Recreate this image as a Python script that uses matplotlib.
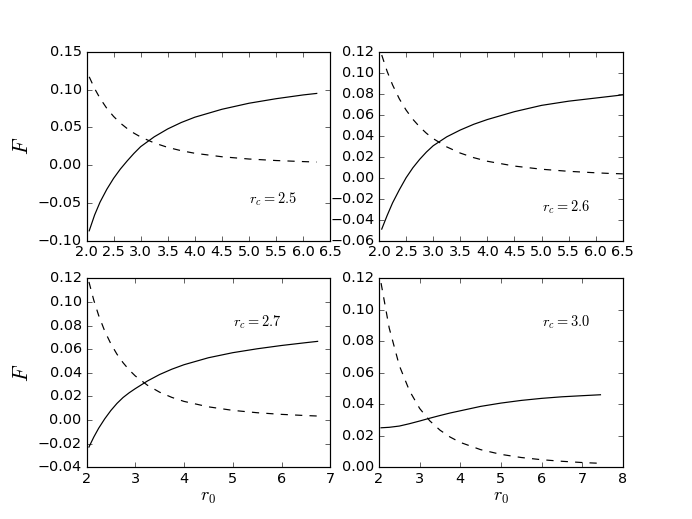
import matplotlib
matplotlib.use("Agg")
import matplotlib.pyplot as plt

plt.style.use("classic")
plt.rcParams["figure.facecolor"] = "white"
plt.rcParams["savefig.facecolor"] = "white"
plt.rcParams["mathtext.fontset"] = "cm"

# ---- data ----
x_rc25 = [2.05, 2.15, 2.25, 2.375, 2.5, 2.625, 2.75, 2.875, 3.0, 3.25, 3.5, 3.75, 4.0, 4.5, 5.0, 5.5, 6.0, 6.25]
solid_rc25 = [-0.087, -0.066, -0.049, -0.032, -0.0175, -0.0052, 0.0055, 0.0155, 0.0245, 0.0375, 0.048, 0.0565, 0.0635, 0.074, 0.082, 0.088, 0.093, 0.095]
dashed_rc25 = [0.117, 0.1014, 0.0885, 0.0752, 0.0645, 0.0557, 0.0485, 0.0424, 0.0373, 0.0294, 0.0235, 0.0191, 0.0157, 0.0111, 0.0081, 0.0061, 0.0047, 0.0041]

x_rc26 = [2.05, 2.15, 2.25, 2.375, 2.5, 2.625, 2.75, 2.875, 3.0, 3.25, 3.5, 3.75, 4.0, 4.5, 5.0, 5.5, 6.0, 6.25, 6.5]
solid_rc26 = [-0.049, -0.036, -0.024, -0.0115, 0.000, 0.0095, 0.0175, 0.0245, 0.0305, 0.039, 0.0455, 0.051, 0.0555, 0.063, 0.069, 0.073, 0.076, 0.0775, 0.079]
dashed_rc26 = [0.117, 0.1014, 0.0885, 0.0752, 0.0645, 0.0557, 0.0485, 0.0424, 0.0373, 0.0294, 0.0235, 0.0191, 0.0157, 0.0111, 0.0081, 0.0061, 0.0047, 0.0041, 0.0037]

x_rc27 = [2.05, 2.15, 2.25, 2.375, 2.5, 2.625, 2.75, 2.875, 3.0, 3.25, 3.5, 3.75, 4.0, 4.5, 5.0, 5.5, 6.0, 6.5, 6.74]
solid_rc27 = [-0.023, -0.0145, -0.007, 0.001, 0.008, 0.014, 0.019, 0.023, 0.0265, 0.033, 0.0385, 0.043, 0.0468, 0.0527, 0.057, 0.0603, 0.0631, 0.0655, 0.0666]
dashed_rc27 = [0.117, 0.1014, 0.0885, 0.0752, 0.0645, 0.0557, 0.0485, 0.0424, 0.0373, 0.0294, 0.0235, 0.0191, 0.0157, 0.0111, 0.0081, 0.0061, 0.0047, 0.0037, 0.0033]

x_rc30 = [2.05, 2.25, 2.5, 2.75, 3.0, 3.25, 3.5, 3.75, 4.0, 4.5, 5.0, 5.5, 6.0, 6.5, 7.0, 7.45]
solid_rc30 = [0.0250, 0.0253, 0.0261, 0.0276, 0.0293, 0.0311, 0.0328, 0.0344, 0.0358, 0.0386, 0.0407, 0.0424, 0.0437, 0.0447, 0.0454, 0.0460]
dashed_rc30 = [0.117, 0.0885, 0.0645, 0.0485, 0.0373, 0.0294, 0.0235, 0.0191, 0.0157, 0.0111, 0.0081, 0.0061, 0.0047, 0.0037, 0.0029, 0.0024]

labels = ["$r_c=2.5$", "$r_c=2.6$", "$r_c=2.7$", "$r_c=3.0$"]
label_pos = [(5.0, -0.045), (5.0, -0.028), (5.0, 0.083), (6.0, 0.092)]
xlims = [(2.0, 6.5), (2.0, 6.5), (2, 7), (2, 8)]
ylims = [(-0.10, 0.15), (-0.06, 0.12), (-0.04, 0.12), (0.0, 0.12)]
xticks = [[2.0, 2.5, 3.0, 3.5, 4.0, 4.5, 5.0, 5.5, 6.0, 6.5],
          [2.0, 2.5, 3.0, 3.5, 4.0, 4.5, 5.0, 5.5, 6.0, 6.5],
          [2, 3, 4, 5, 6, 7],
          [2, 3, 4, 5, 6, 7, 8]]
yticks = [[-0.10, -0.05, 0.00, 0.05, 0.10, 0.15],
          [-0.06, -0.04, -0.02, 0.00, 0.02, 0.04, 0.06, 0.08, 0.10, 0.12],
          [-0.04, -0.02, 0.00, 0.02, 0.04, 0.06, 0.08, 0.10, 0.12],
          [0.00, 0.02, 0.04, 0.06, 0.08, 0.10, 0.12]]

xs = [x_rc25, x_rc26, x_rc27, x_rc30]
solids = [solid_rc25, solid_rc26, solid_rc27, solid_rc30]
dasheds = [dashed_rc25, dashed_rc26, dashed_rc27, dashed_rc30]

fig, axes = plt.subplots(2, 2, figsize=(8, 6), dpi=86.5)
fig.subplots_adjust(left=0.125, right=0.9, bottom=0.1, top=0.9, wspace=0.2, hspace=0.2)

for i, ax in enumerate(axes.flat):
    ax.plot(xs[i], solids[i], color="black", linestyle="-", linewidth=1.0)
    ax.plot(xs[i], dasheds[i], color="black", linestyle="--", linewidth=1.0)
    ax.set_xlim(*xlims[i])
    ax.set_ylim(*ylims[i])
    ax.set_xticks(xticks[i])
    ax.set_yticks(yticks[i])
    ax.text(label_pos[i][0], label_pos[i][1], labels[i], fontsize=12,
            ha="left", va="center")
    ax.tick_params(direction="in", top=True, right=True, labelsize=12)

axes[0, 0].set_ylabel("$F$", fontsize=18)
axes[1, 0].set_ylabel("$F$", fontsize=18)
axes[1, 0].set_xlabel("$r_0$", fontsize=15, labelpad=2)
axes[1, 1].set_xlabel("$r_0$", fontsize=15, labelpad=2)

fig.savefig("out.png", dpi=86.5)
